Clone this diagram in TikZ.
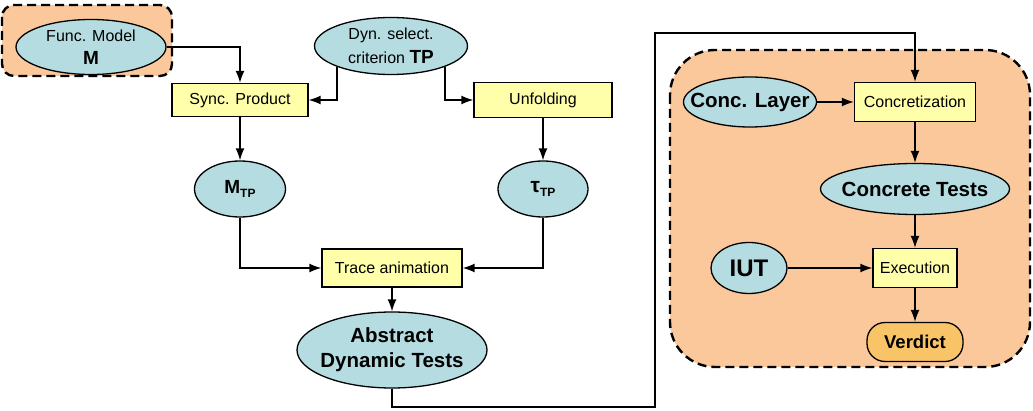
\documentclass[tikz,border=0pt]{standalone}
\usepackage{fontspec}
\setmainfont{Liberation Sans}
\usetikzlibrary{shapes.geometric, arrows.meta}
\definecolor{ellfill}{HTML}{B5DDE1}
\definecolor{boxfill}{HTML}{FFFFAA}
\definecolor{grpfill}{HTML}{FBC89B}
\definecolor{verdfill}{HTML}{F8C467}
\newcommand{\plaintxt}{\fontsize{16}{21}\selectfont}
\newcommand{\boldtxt}{\fontsize{20.5}{24}\selectfont\bfseries}
\newcommand{\bigtxt}{\fontsize{19}{22}\selectfont\bfseries}
\begin{document}
\begin{tikzpicture}[x = 1pt, y = -1pt,
ell/.style = {ellipse, draw, line width = 1.3pt, fill = ellfill, inner sep = 0pt, align = center},
proc/.style = {rectangle, draw, line width = 1.3pt, fill = boxfill, inner sep = 0pt, font = \plaintxt},
grp/.style = {draw, line width = 2.4pt, dash pattern = on 9pt off 5pt, fill = grpfill},
link/.style = {-{Latex[length = 12pt, width = 9pt]}, line width = 1.4pt}]

\useasboundingbox (0,0) rectangle (1033,411);

% dashed groups
\draw[grp, rounded corners = 12pt] (2,5) rectangle (172,76);
\draw[grp, rounded corners = 45pt] (670,50) rectangle (1030,367);

\node[ell, font = \plaintxt, minimum width = 150pt, minimum height = 55pt] (fm) at (91,47) {Func. Model\\[2pt] {\bigtxt M}};
\node[ell, font = \plaintxt, minimum width = 153pt, minimum height = 57pt] (dyn) at (391,46) {Dyn. select.\\[3pt] criterion {\bigtxt TP}};
\node[proc, minimum width = 136pt, minimum height = 33pt] (sync) at (240,100) {Sync. Product};
\node[proc, minimum width = 138pt, minimum height = 35pt] (unf) at (543,100) {Unfolding};
\node[ell, font = \bigtxt, minimum width = 91pt, minimum height = 56pt] (mtp) at (240,189) {M\raisebox{-4pt}{\fontsize{12}{14}\selectfont TP}};
\node[ell, font = \bigtxt, minimum width = 90pt, minimum height = 56pt] (tau) at (543,189) {{\fontsize{21}{22}\selectfont τ}\raisebox{-4pt}{\fontsize{12}{14}\selectfont TP}};
\node[proc, minimum width = 140pt, minimum height = 38pt] (trace) at (392,268) {Trace animation};
\node[ell, font = \boldtxt, inner xsep = -6pt, minimum width = 190pt, minimum height = 76pt] (adt) at (392,350) {Abstract\\[1pt] Dynamic Tests};

\node[ell, font = \boldtxt, inner xsep = -13pt, minimum width = 133pt, minimum height = 50pt] (layer) at (750,102) {Conc. Layer};
\node[proc, minimum width = 121pt, minimum height = 39pt] (conc) at (915,102) {Concretization};
\node[ell, font = \boldtxt, inner xsep = -7pt, minimum width = 189pt, minimum height = 51pt] (ctests) at (915,189) {Concrete Tests};
\node[ell, font = \fontsize{24}{26}\selectfont\bfseries, minimum width = 76pt, minimum height = 51pt] (iut) at (749,268) {IUT};
\node[proc, minimum width = 84pt, minimum height = 39pt] (exec) at (915,268) {Execution};
\node[draw, line width = 1.3pt, fill = verdfill, rounded corners = 18pt, minimum width = 96pt, minimum height = 39pt, inner sep = 0pt, font = \fontsize{18.5}{20}\selectfont\bfseries] (verd) at (915,342) {Verdict};

\coordinate (low) at (655,407);
\coordinate (high) at (655,33);

% connect
\draw[link] (fm.east) -| (sync.north);
\draw[link] (dyn.201) |- (sync.east);
\draw[link] (dyn.339) |- (unf.west);
\draw[link] (sync) -- (mtp);
\draw[link] (unf) -- (tau);
\draw[link] (mtp.south) |- (trace.west);
\draw[link] (tau.south) |- (trace.east);
\draw[link] (trace) -- (adt);
\draw[link] (adt.south) |- (low) -- (high) -| (conc.north);
\draw[link] (layer) -- (conc);
\draw[link] (conc) -- (ctests);
\draw[link] (ctests) -- (exec);
\draw[link] (iut) -- (exec);
\draw[link] (exec) -- (verd);

\end{tikzpicture}
\end{document}
